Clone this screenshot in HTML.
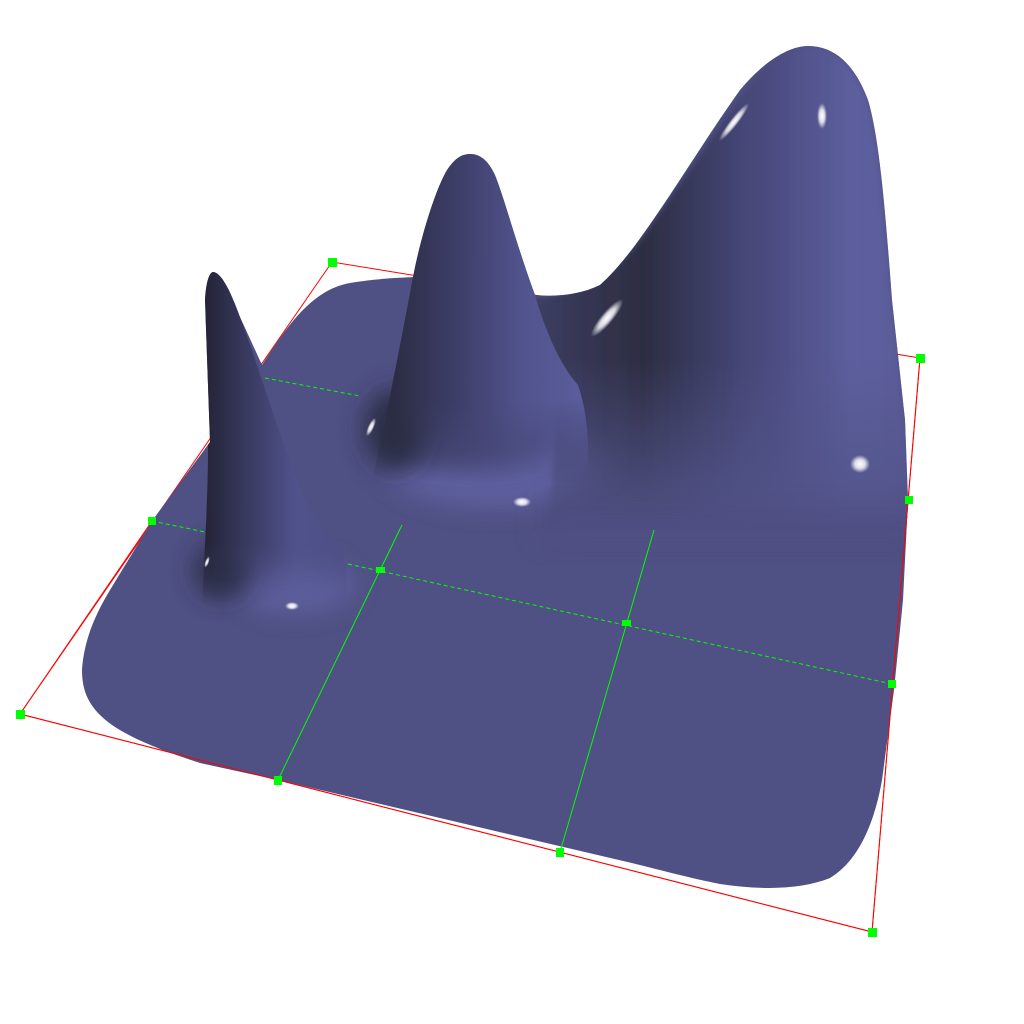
<!DOCTYPE html>
<html><head><meta charset="utf-8"><style>html,body{margin:0;padding:0;background:#fff}svg{display:block}</style></head>
<body>
<svg width="1024" height="1024" viewBox="0 0 1024 1024">
<defs>
<linearGradient id="gBig" x1="540" y1="0" x2="910" y2="0" gradientUnits="userSpaceOnUse">
<stop offset="0" stop-color="#3c3d60"/><stop offset="0.28" stop-color="#2c2d42"/><stop offset="0.55" stop-color="#454676"/><stop offset="0.85" stop-color="#5d5f9e"/><stop offset="1" stop-color="#5a5c98"/>
</linearGradient>
<linearGradient id="gMid" x1="395" y1="0" x2="580" y2="0" gradientUnits="userSpaceOnUse">
<stop offset="0" stop-color="#2c2d44"/><stop offset="0.35" stop-color="#3e3f6a"/><stop offset="0.7" stop-color="#52548e"/><stop offset="1" stop-color="#5a5c9c"/>
</linearGradient>
<linearGradient id="gCone" x1="203" y1="0" x2="335" y2="0" gradientUnits="userSpaceOnUse">
<stop offset="0" stop-color="#222334"/><stop offset="0.35" stop-color="#3a3b62"/><stop offset="0.7" stop-color="#50528c"/><stop offset="1" stop-color="#4e5086"/>
</linearGradient>
<linearGradient id="fadeBig" x1="0" y1="0" x2="0" y2="1024" gradientUnits="userSpaceOnUse">
<stop offset="0.35" stop-color="#fff"/><stop offset="0.52" stop-color="#000"/>
</linearGradient>
<mask id="mBig" maskUnits="userSpaceOnUse" x="0" y="0" width="1024" height="1024">
<rect x="0" y="0" width="1024" height="1024" fill="url(#fadeBig)"/>
</mask>
<linearGradient id="fadeMid" x1="0" y1="0" x2="0" y2="1024" gradientUnits="userSpaceOnUse">
<stop offset="0.39" stop-color="#fff"/><stop offset="0.47" stop-color="#000"/>
</linearGradient>
<mask id="mMid" maskUnits="userSpaceOnUse" x="0" y="0" width="1024" height="1024">
<rect x="0" y="0" width="1024" height="1024" fill="url(#fadeMid)"/>
</mask>
<linearGradient id="fadeCone" x1="0" y1="0" x2="0" y2="1024" gradientUnits="userSpaceOnUse">
<stop offset="0.53" stop-color="#fff"/><stop offset="0.59" stop-color="#000"/>
</linearGradient>
<mask id="mCone" maskUnits="userSpaceOnUse" x="0" y="0" width="1024" height="1024">
<rect x="0" y="0" width="1024" height="1024" fill="url(#fadeCone)"/>
</mask>
<filter id="blur12" x="-50%" y="-50%" width="200%" height="200%"><feGaussianBlur stdDeviation="12"/></filter>
<filter id="blur4" x="-50%" y="-50%" width="200%" height="200%"><feGaussianBlur stdDeviation="3"/></filter>
<radialGradient id="gSpec"><stop offset="0" stop-color="#fff"/><stop offset="0.5" stop-color="#fff" stop-opacity="0.8"/><stop offset="1" stop-color="#fff" stop-opacity="0"/></radialGradient>
<clipPath id="clipSurf"><path d="M82,670 C84,640 95,615 110,590 L152,521 L210,442 L205,300 C206,280 210,272 213,272 C222,272 232,295 240,317 L262,365 C285,330 310,290 350,283 C380,278 400,278 413,277 C420,240 435,190 447,170 C455,158 462,154 470,154 C480,154 488,160 495,175 C505,200 515,240 535,295 C555,297 580,295 600,285 C640,250 690,160 740,90 C765,60 790,46 808,46 C835,46 855,65 868,100 C880,140 886,220 892,300 L905,420 L908,500 L903,600 L894,690 L882,780 C875,820 860,860 830,878 C800,890 760,890 720,884 C690,878 660,870 640,865 L278,780 L200,763 C160,750 120,735 100,715 C88,703 82,690 82,670 Z"/></clipPath>
</defs>

<g fill="none" stroke="#ff0000" stroke-width="1">
<polyline points="20,714 332,262 920,358 872,932 20,714"/>
</g>

<g clip-path="url(#clipSurf)">
<rect x="0" y="0" width="1024" height="1024" fill="#4f5083"/>
<ellipse cx="495" cy="458" rx="115" ry="50" fill="#6062a2" filter="url(#blur12)" opacity="0.9"/>
<ellipse cx="470" cy="430" rx="95" ry="38" fill="#3d3e66" filter="url(#blur12)" opacity="0.7"/>
<ellipse cx="395" cy="430" rx="30" ry="40" fill="#2c2d44" filter="url(#blur12)"/>
<ellipse cx="295" cy="585" rx="60" ry="28" fill="#6062a2" filter="url(#blur12)" opacity="0.9"/>
<ellipse cx="222" cy="570" rx="28" ry="28" fill="#2c2d44" filter="url(#blur12)" opacity="0.9"/>
<rect x="560" y="330" width="360" height="200" fill="#56588f" filter="url(#blur12)" opacity="0.5"/>
<rect x="540" y="505" width="380" height="40" fill="#4f5083" filter="url(#blur12)" opacity="0.8"/>

<path fill="url(#gBig)" mask="url(#mBig)" filter="url(#blur4)" d="M530,298 C590,295 615,270 640,240 C690,170 730,110 760,70 C780,52 795,46 808,46 C835,46 855,65 868,100 C880,140 886,220 892,300 L905,420 L920,560 L540,560 C560,470 560,380 530,298 Z"/>
<path fill="url(#gMid)" mask="url(#mMid)" d="M370,490 C390,400 405,320 413,277 C420,240 435,190 447,170 C455,158 462,154 470,154 C480,154 488,160 495,175 C505,200 515,240 535,295 C545,330 560,365 578,385 C590,420 590,460 585,490 Z"/>
<path fill="url(#gCone)" mask="url(#mCone)" d="M202,610 C204,560 208,500 208,450 L205,300 C206,280 210,272 213,272 C222,272 232,295 240,317 C260,370 280,440 305,500 C315,520 325,530 338,542 C348,560 348,590 345,610 Z"/>
</g>

<ellipse cx="607" cy="318" rx="6" ry="24" transform="rotate(40 607 318)" fill="url(#gSpec)"/>
<ellipse cx="734" cy="122" rx="4" ry="24" transform="rotate(38 734 122)" fill="url(#gSpec)"/>
<ellipse cx="822" cy="116" rx="5" ry="13" fill="url(#gSpec)"/>
<ellipse cx="860" cy="464" rx="10" ry="9" fill="url(#gSpec)"/>
<ellipse cx="522" cy="502" rx="9" ry="5" fill="url(#gSpec)"/>
<ellipse cx="292" cy="606" rx="7" ry="4" fill="url(#gSpec)"/>
<ellipse cx="371" cy="427" rx="3" ry="10" transform="rotate(25 371 427)" fill="url(#gSpec)"/>
<ellipse cx="207" cy="562" rx="2" ry="6" transform="rotate(20 207 562)" fill="url(#gSpec)"/>

<g fill="none" stroke="#ff0000" stroke-width="1">
<polyline points="20,714 152,521"/>
<polyline points="20,714 872,932 920,358"/>
</g>
<g stroke="#00ff00" stroke-width="1" fill="none">
<line x1="152" y1="521" x2="205" y2="532" stroke-dasharray="4,3"/>
<line x1="348" y1="564" x2="892" y2="684" stroke-dasharray="4,3"/>
<line x1="265" y1="378" x2="360" y2="396" stroke-dasharray="4,3"/>
<line x1="278" y1="780" x2="402" y2="525"/>
<line x1="560" y1="852" x2="654" y2="530"/>
</g>
<g fill="#00ff00">
<rect x="16" y="710" width="9" height="9"/>
<rect x="328" y="258" width="9" height="9"/>
<rect x="916" y="354" width="9" height="9"/>
<rect x="868" y="928" width="9" height="9"/>
<rect x="148" y="517" width="8" height="8"/>
<rect x="274" y="776" width="8" height="9"/>
<rect x="556" y="848" width="8" height="9"/>
<rect x="905" y="496" width="8" height="8"/>
<rect x="888" y="680" width="8" height="8"/>
<rect x="376" y="567" width="9" height="6"/>
<rect x="622" y="620" width="9" height="6"/>
</g>
</svg>
</body></html>
